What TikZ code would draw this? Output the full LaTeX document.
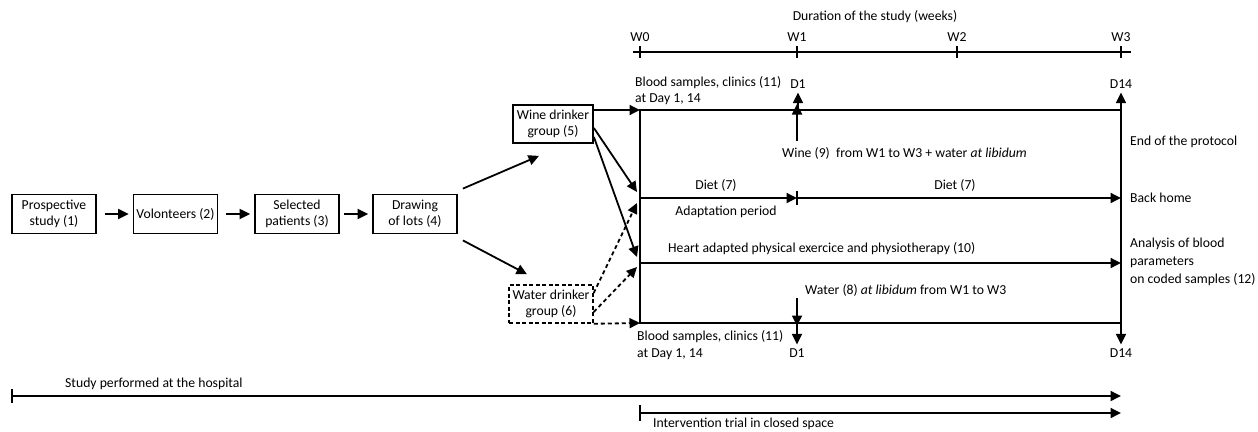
\documentclass[tikz,border=0pt]{standalone}
\usepackage{fontspec}
\setmainfont{Carlito}
\usetikzlibrary{arrows.meta}
\begin{document}
\begin{tikzpicture}[x=1pt,y=-1pt,
  font=\fontsize{13.7}{16}\selectfont,
  box/.style={draw, line width=1.8pt, minimum width=84pt, minimum height=39pt, align=center, inner sep=1pt},
  dbox/.style={box, dash pattern=on 4pt off 2.5pt, line width=1.5pt},
  ln/.style={line width=1.8pt},
  arr/.style={ln, -{Triangle[length=10.5pt,width=10pt]}},
  darr/.style={arr, dash pattern=on 4pt off 3pt},
  lbl/.style={inner sep=0pt, anchor=west},
  clbl/.style={inner sep=0pt, anchor=center}]
\useasboundingbox (0,0) rectangle (1258,431);
% left flow
\node[box] (b1) at (54,214) {Prospective\\study (1)};
\node[box] (b2) at (175.5,214) {Volonteers (2)};
\node[box] (b3) at (297,214) {Selected\\patients (3)};
\node[box] (b4) at (415,214) {Drawing\\of lots (4)};
\node[box, minimum width=80pt, minimum height=38pt] (wine) at (553,124) {Wine drinker\\group (5)};
\node[dbox, minimum height=38pt] (water) at (551,304) {Water drinker\\group (6)};
\draw[arr, shorten <=8pt, shorten >=4pt] (b1) -- (b2);
\draw[arr, shorten <=8pt, shorten >=4pt] (b2) -- (b3);
\draw[arr, shorten <=4pt, shorten >=4pt] (b3) -- (b4);
\draw[arr] ([shift={(5,-5)}]b4.north east) -- ([shift={(-14,12)}]wine.south);
\draw[arr] ([shift={(5,6)}]b4.south east) -- ([shift={(-24,-10)}]water.north);
% main frame coordinates
\coordinate (L0) at (640,110);
\coordinate (R0) at (1121,110);
\coordinate (Lb) at (640,323);
\coordinate (Rb) at (1121,323);
\coordinate (Ld) at (640,198);
\coordinate (Md) at (797,198);
\coordinate (Rd) at (1121,198);
\coordinate (Lh) at (640,263);
\coordinate (Rh) at (1121,263);
\draw[ln] (L0) -- (R0) -- (Rb) -- (Lb) -- cycle;
\draw[arr] (wine.east |- L0) -- (L0);
\draw[arr] ([yshift=-4pt]wine.east) -- ([shift={(-3,-6)}]Ld);
\draw[arr] ([yshift=-13pt]wine.east) -- ([shift={(-3,-6)}]Lh);
\draw[darr] ([yshift=11pt]water.east) -- ([shift={(-3,5)}]Ld);
\draw[darr] ([yshift=-8pt]water.east) -- ([shift={(-3,4)}]Lh);
\draw[darr] (water.south east) -- (Lb);
% timeline
\coordinate (T0) at (633,52);
\coordinate (T1) at (1131,52);
\draw[ln] (T0) -- (T1);
\foreach \xx/\nm in {640/W0,797/W1,957/W2,1121/W3}{
  \draw[ln] (\xx,46) -- (\xx,58);
  \node[clbl] (lab\nm) at (\xx,37) {\nm};
}
\node[clbl] (dur) at (875,17) {Duration of the study (weeks)};
% top samples
\node[lbl] (bs1) at (635,83) {Blood samples, clinics (11)};
\node[lbl] (bs1b) at (635,99) {at Day 1, 14};
\node[clbl] (d1t) at (798,84) {D1};
\node[clbl] (d14t) at (1121,84) {D14};
\draw[arr] (L0 -| d1t) -- ([yshift=-4pt]d1t.south);
\draw[arr] (R0) -- ([yshift=-4pt]d14t.south);
\coordinate (wineA) at (797,141);
\draw[arr] (wineA) -- ([yshift=6pt]L0 -| wineA);
\node[lbl] (wine9) at (782,153) {Wine (9)};
\node[lbl] (wine9b) at (836,153) {from W1 to W3 + water \textit{at libidum}};
\node[lbl] (end) at (1130,142) {End of the protocol};
% diet
\draw[arr] (Ld) -- (Md);
\draw[ln] (797,191) -- (797,205);
\draw[arr] (Md) -- (Rd);
\node[clbl] (diet1) at (716,185) {Diet (7)};
\node[clbl] (adapt) at (726,212) {Adaptation period};
\node[clbl] (diet2) at (955,185) {Diet (7)};
\node[lbl] (home) at (1130,198) {Back home};
% heart
\draw[arr] (Lh) -- (Rh);
\node[lbl] (heart) at (668,249) {Heart adapted physical exercice and physiotherapy (10)};
\node[lbl] (an1) at (1130,244) {Analysis of blood};
\node[lbl] (an2) at (1130,262) {parameters};
\node[lbl] (an3) at (1130,280) {on coded samples (12)};
% water
\coordinate (watA) at (797,298);
\draw[arr] (watA) -- ([yshift=-3pt]Lb -| watA);
\node[lbl] (wat8) at (805,290) {Water (8) \textit{at libidum} from W1 to W3};
% bottom samples
\node[clbl] (d1b) at (797,353) {D1};
\node[clbl] (d14b) at (1121,353) {D14};
\draw[arr] (Lb -| d1b) -- ([yshift=4pt]d1b.north);
\draw[arr] (Rb) -- ([yshift=4pt]d14b.north);
\node[lbl] (bs2) at (637,337) {Blood samples, clinics (11)};
\node[lbl] (bs2b) at (637,354) {at Day 1, 14};
% bottom spans
\coordinate (H0) at (12,396);
\coordinate (H1) at (1121,396);
\draw[arr] (H0) -- (H1);
\draw[ln] (12,389) -- (12,403);
\node[lbl] (hosp) at (65,384) {Study performed at the hospital};
\coordinate (I0) at (640,413);
\coordinate (I1) at (1121,413);
\draw[arr] (I0) -- (I1);
\draw[ln] (640,405) -- (640,421);
\node[lbl] (interv) at (653,424) {Intervention trial in closed space};
\end{tikzpicture}
\end{document}
